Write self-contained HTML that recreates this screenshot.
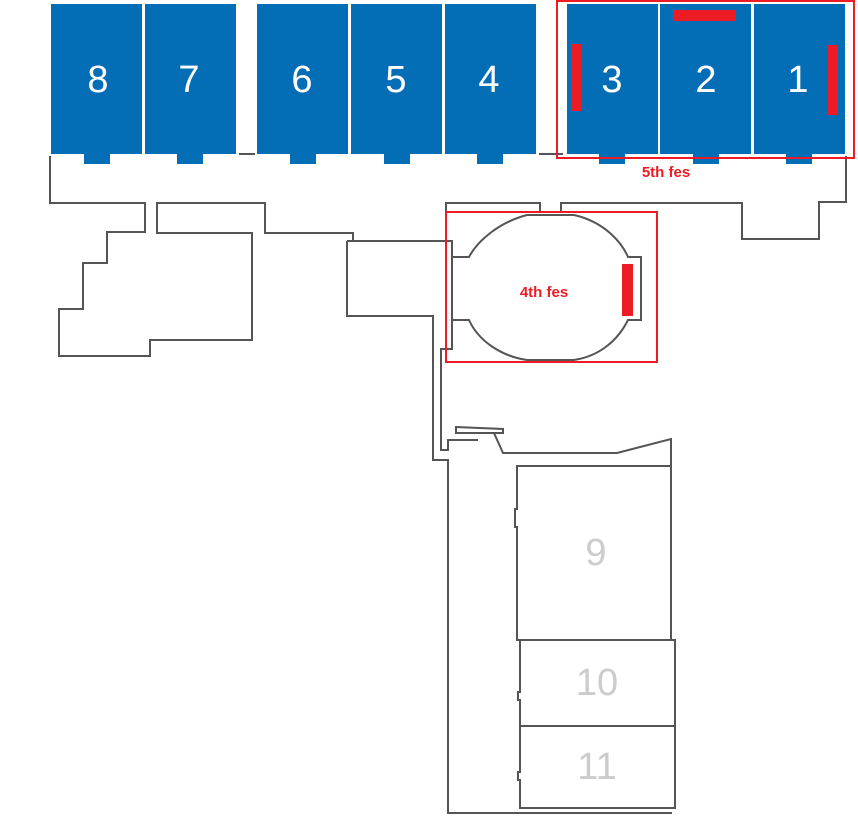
<!DOCTYPE html>
<html><head><meta charset="utf-8"><style>
html,body{margin:0;padding:0;background:#fff;}
svg{display:block;}
</style></head><body>
<svg width="858" height="824" viewBox="0 0 858 824" xmlns="http://www.w3.org/2000/svg" font-family="Liberation Sans, sans-serif">
<g fill="#036eb5">
<rect x="51" y="4" width="91" height="150"/><rect x="84" y="153" width="26" height="11"/>
<rect x="145" y="4" width="91" height="150"/><rect x="177" y="153" width="26" height="11"/>
<rect x="257" y="4" width="91" height="150"/><rect x="290" y="153" width="26" height="11"/>
<rect x="351" y="4" width="91" height="150"/><rect x="384" y="153" width="26" height="11"/>
<rect x="445" y="4" width="91" height="150"/><rect x="477" y="153" width="26" height="11"/>
<rect x="567" y="4" width="91" height="150"/><rect x="599" y="153" width="26" height="11"/>
<rect x="660" y="4" width="91" height="150"/><rect x="693" y="153" width="26" height="11"/>
<rect x="754" y="4" width="91" height="150"/><rect x="786" y="153" width="26" height="11"/>
</g>
<g fill="#fff" font-size="38" text-anchor="middle">
<text x="98" y="92">8</text><text x="189" y="92">7</text><text x="302" y="92">6</text><text x="396" y="92">5</text><text x="489" y="92">4</text><text x="612" y="92">3</text><text x="706" y="92">2</text><text x="798" y="92">1</text>
</g>
<g fill="none" stroke="#555" stroke-width="2">
<line x1="239" y1="154" x2="255" y2="154"/>
<line x1="539" y1="154" x2="563" y2="154"/>
<polyline points="50,156 50,203 145,203 145,232 107,232 107,263 83,263 83,309 59,309 59,356 150,356 150,340 252,340 252,233 157,233 157,203 265,203 265,233 353,233 353,241"/>
<polyline points="347,241 452,241 452,349 441,349 441,450 448,450 448,440 478,440"/>
<polyline points="347,241 347,316 433,316 433,460 448,460 448,813 672,813"/>
<polyline points="446,241 446,203 540,203 540,213"/>
<polyline points="561,213 561,203 742,203 742,239 819,239 819,202 846,202 846,156"/>
<path d="M527,215 L574,215 C605,222 622,243 628,257 L641,257 L641,320 L628,320 C618,340 600,356 574,360 L527,360 C500,356 478,340 469,320 L452,320 L452,257 L469,257 C478,240 500,222 527,215 Z"/>
<polygon points="456,427 503,429 503,433 456,433"/>
<polyline points="494,433 503,453 617,453 671,439 671,466"/>
<path d="M517,466 L671,466 L671,640 L517,640 L517,527 L515,527 L515,509 L517,509 Z"/>
<path d="M520,640 L675,640 L675,726 L520,726 L520,700 L518,700 L518,692 L520,692 Z"/>
<path d="M520,726 L675,726 L675,808 L520,808 L520,780 L518,780 L518,772 L520,772 Z"/>
</g>
<g fill="#ccc" font-size="38" text-anchor="middle">
<text x="596" y="565">9</text><text x="597" y="695">10</text><text x="597" y="779">11</text>
</g>
<g fill="#ed1c24">
<rect x="571" y="44" width="10" height="67"/>
<rect x="673" y="10" width="63" height="11"/>
<rect x="828" y="45" width="10" height="70"/>
<rect x="622" y="264" width="11" height="52"/>
</g>
<g fill="none" stroke="#ed1c24" stroke-width="2">
<rect x="557" y="1" width="297" height="157"/>
<rect x="446" y="212" width="211" height="150"/>
</g>
<g fill="#ed1c24" font-size="15" font-weight="bold" text-anchor="middle">
<text x="666" y="177">5th fes</text>
<text x="544" y="297">4th fes</text>
</g>
</svg>
</body></html>
